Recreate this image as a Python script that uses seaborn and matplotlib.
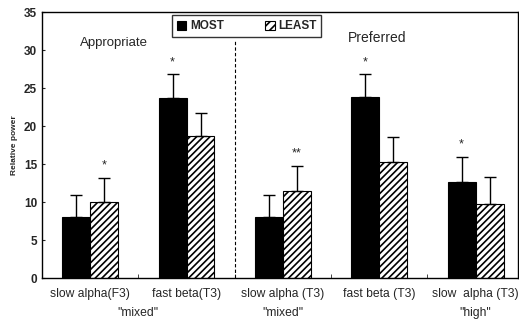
import pandas as pd
import matplotlib
matplotlib.use("Agg")
import matplotlib.pyplot as plt
import seaborn as sns

# Values
categories = ["slow alpha(F3)", "fast beta(T3)", "slow alpha (T3)", "fast beta (T3)", "slow  alpha (T3)"]
most_vals = [8.0, 23.7, 8.0, 23.8, 12.7]
least_vals = [10.0, 18.7, 11.5, 15.3, 9.8]
most_err = [2.9, 3.1, 3.0, 3.0, 3.3]
least_err = [3.2, 3.0, 3.3, 3.3, 3.5]
most_stars = ["", "*", "", "*", "*"]
least_stars = ["*", "", "**", "", ""]
group_labels = ['"mixed"', '"mixed"', '"high"']
group_pos = [0.5, 2.0, 4.0]

df = pd.DataFrame({
    "cat": categories * 2,
    "val": most_vals + least_vals,
    "grp": ["MOST"] * 5 + ["LEAST"] * 5,
})

sns.set_style("white")
plt.rcParams["font.family"] = ["Liberation Sans", "DejaVu Sans"]
plt.rcParams["hatch.linewidth"] = 1.2

fig = plt.figure(figsize=(5.19, 3.2), dpi=100)
ax = fig.add_axes([0.081, 0.131, 0.917, 0.831])

sns.barplot(data=df, x="cat", y="val", hue="grp", order=categories,
            hue_order=["MOST", "LEAST"], palette={"MOST": "black", "LEAST": "white"},
            width=0.58, gap=0, edgecolor="black", linewidth=0.8, ax=ax)

n = len(categories)
bars = ax.patches[:2 * n]
for p in bars[n:]:
    p.set_hatch("/////")

# upper error bars and significance marks
for i, p in enumerate(bars):
    xc = p.get_x() + p.get_width() / 2
    h = p.get_height()
    e = most_err[i] if i < n else least_err[i - n]
    star = most_stars[i] if i < n else least_stars[i - n]
    ax.errorbar(xc, h, yerr=[[0], [e]], fmt="none", ecolor="black",
                elinewidth=1, capsize=4, capthick=1)
    if star:
        ax.text(xc, h + e + 0.8, star, ha="center", va="bottom", fontsize=9)

ax.set_xlim(-0.5, 4.44)
ax.set_ylim(0, 35)
ax.set_yticks(range(0, 36, 5))
ax.set_xlabel("")
ax.set_ylabel("Relative power", fontsize=6, fontweight="bold")
ax.tick_params(axis="x", length=0, labelsize=8.7, pad=7)
ax.tick_params(axis="y", labelsize=8.5, left=True, length=2, direction="in")
for t in ax.get_yticklabels():
    t.set_fontweight("bold")
ax.set_xticks([0.5, 1.5, 2.5, 3.5], minor=True)
ax.tick_params(axis="x", which="minor", length=3, direction="in", bottom=True)
for s in ax.spines.values():
    s.set_color("black")
    s.set_linewidth(1)

ax.vlines(1.5, 0, 31.3, colors="black", linestyles=(0, (3, 2)), linewidth=0.8)
ax.text(0.25, 31, "Appropriate", ha="center", va="center", fontsize=9.5)
ax.text(2.98, 31.6, "Preferred", ha="center", va="center", fontsize=10)

for x, lab in zip(group_pos, group_labels):
    ax.text(x, -4.6, lab, ha="center", va="center", fontsize=8.7)

leg = ax.legend(loc="upper center", bbox_to_anchor=(0.43, 1.01), ncol=2,
                frameon=True, fancybox=False, edgecolor="black",
                prop={"size": 8.5, "weight": "bold"},
                handlelength=0.8, handleheight=0.8, columnspacing=3.5,
                handletextpad=0.3, borderpad=0.4)
leg.get_frame().set_linewidth(1)
leg.legend_handles[1].set_hatch("////")

fig.savefig("out.png", dpi=100)
